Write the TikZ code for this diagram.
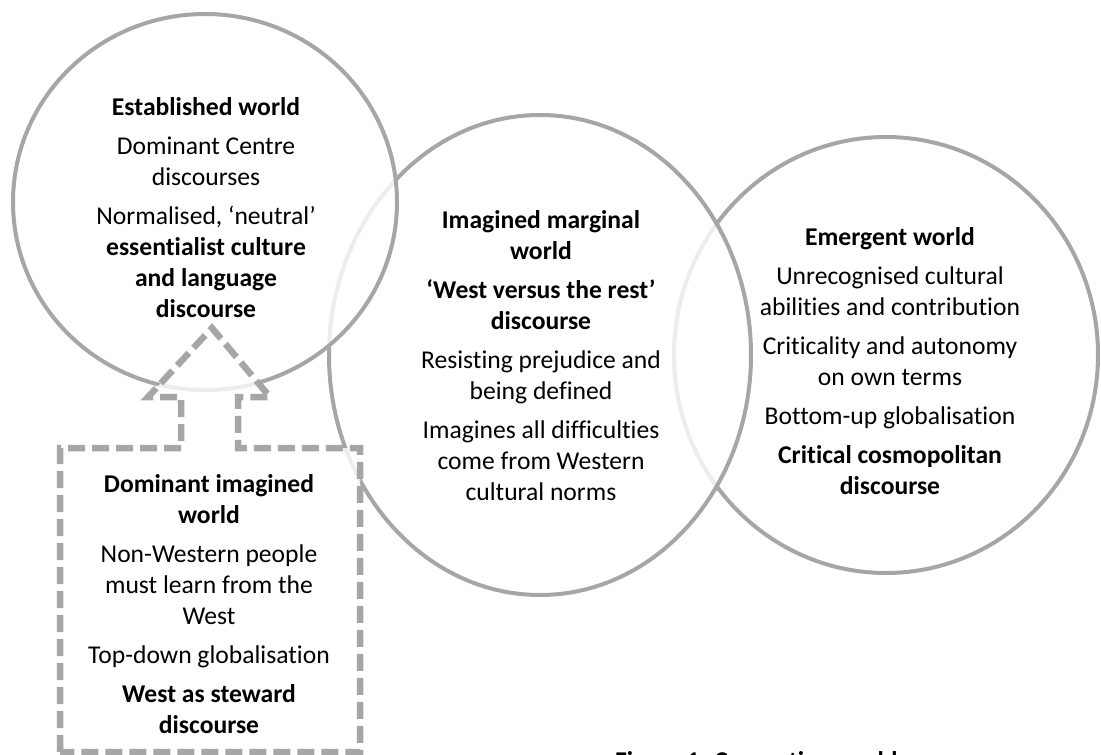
\documentclass[tikz,border=0pt]{standalone}
\usepackage{fontspec}
\setmainfont{Carlito}[Ligatures=NoCommon]
\usetikzlibrary{shapes.geometric}
\definecolor{lg}{HTML}{A6A6A6}
\tikzset{
  world/.style={draw=lg, line width=4pt, fill=white, fill opacity=0.8, ellipse, inner sep=0pt},
  txt/.style={align=center, inner sep=0pt, anchor=north, font=\fontsize{25.6}{31}\selectfont},
  dbox/.style={draw=lg, line width=6.5pt, dash pattern=on 17pt off 7pt, fill=white, fill opacity=0.8},
  figcaption/.style={inner sep=0pt, anchor=north west, font=\fontsize{25.6}{31}\selectfont\bfseries}
}
\begin{document}
\begin{tikzpicture}[x=1pt,y=-1pt]
\useasboundingbox (0,0) rectangle (1101,755);
\clip (0,0) rectangle (1101,755);
% circles (drawn right to left so that the left ones lie over the right ones)
\node[world, minimum width=424, minimum height=436] (c3) at (886,355) {};
\node[world, minimum width=422, minimum height=480] (c2) at (540,355) {};
\node[world, minimum width=384, minimum height=376] (c1) at (205,202) {};
% dashed up-arrow callout
\draw[dbox] (60,752) -- (60,448) -- (181,448) -- (181,397) -- (148,397)
  -- (212,328) -- (270,397) -- (238,397) -- (238,448) -- (360,448) -- (360,752) -- cycle;
% texts
\node[txt] (t1) at (206,94) {\strut\textbf{Established world}\\[8pt]
  Dominant Centre\\ discourses\\[8pt]
  Normalised, ‘neutral’\\ \textbf{essentialist culture}\\ \textbf{and language}\\ \textbf{discourse}};
\node[txt] (t2) at (541,206.3) {\strut\textbf{Imagined marginal}\\ \textbf{world}\\[8pt]
  \textbf{‘West versus the rest’}\\ \textbf{discourse}\\[8pt]
  Resisting prejudice and\\ being defined\\[8pt]
  Imagines all difficulties\\ come from Western\\ cultural norms};
\node[txt] (t3) at (890,223.3) {\strut\textbf{Emergent world}\\[8pt]
  Unrecognised cultural\\ abilities and contribution\\[8pt]
  Criticality and autonomy\\ on own terms\\[8pt]
  Bottom-up globalisation\\[8pt]
  \textbf{Critical cosmopolitan}\\ \textbf{discourse}};
\node[txt] (t4) at (209,470.3) {\strut\textbf{Dominant imagined}\\ \textbf{world}\\[8pt]
  Non-Western people\\ must learn from the\\ West\\[8pt]
  Top-down globalisation\\[8pt]
  \textbf{West as steward}\\ \textbf{discourse}};
\node[figcaption] (fig) at (615,751.5) {Figure 1: Competing worlds};
\end{tikzpicture}
\end{document}
